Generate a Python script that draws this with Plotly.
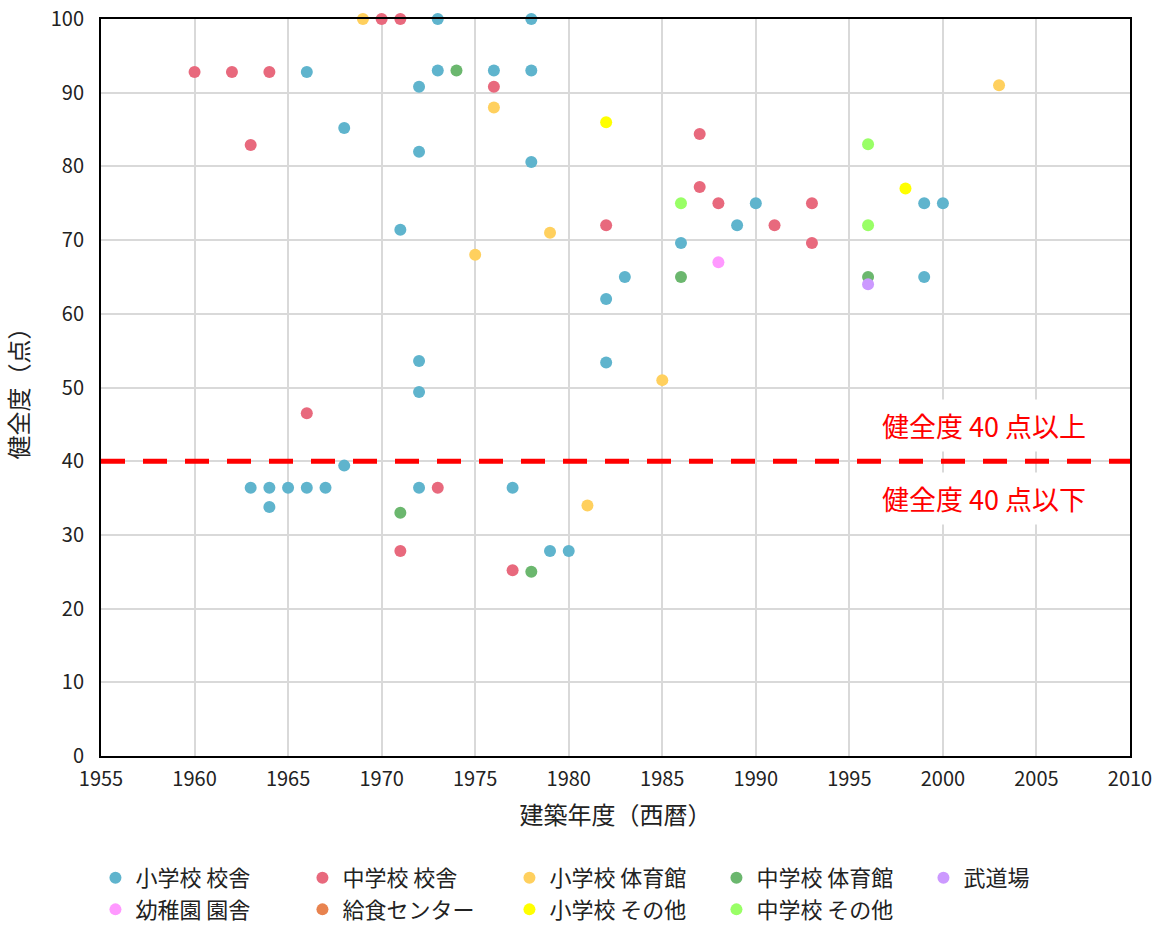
import plotly.graph_objects as go

# 建築年度（西暦）と健全度（点）— 施設区分ごと
categories = [
    "小学校 校舎", "中学校 校舎", "小学校 体育館", "中学校 体育館", "武道場",
    "幼稚園 園舎", "給食センター", "小学校 その他", "中学校 その他",
]
colors = [
    "#5FB4CD", "#E8697D", "#FFD05E", "#6BB76E", "#CC99FF",
    "#FF99FF", "#E8834F", "#FFFF00", "#99FF66",
]

es_bldg_year = [1963, 1964, 1964, 1965, 1966, 1966, 1967, 1968, 1968, 1971,
                1972, 1972, 1972, 1972, 1972, 1973, 1973, 1976, 1977, 1978,
                1978, 1978, 1979, 1980, 1982, 1982, 1983, 1986, 1989, 1990,
                1999, 1999, 2000]
es_bldg_score = [36.4, 36.4, 33.8, 36.4, 36.4, 92.8, 36.4, 39.4, 85.2, 71.4,
                 90.8, 82.0, 53.6, 49.4, 36.4, 100, 93.0, 93.0, 36.4, 100,
                 93.0, 80.6, 27.8, 27.8, 62.0, 53.4, 65.0, 69.6, 72.0, 75.0,
                 75.0, 65.0, 75.0]

js_bldg_year = [1960, 1962, 1963, 1964, 1966, 1970, 1971, 1971, 1973, 1976,
                1977, 1982, 1987, 1987, 1988, 1991, 1993, 1993]
js_bldg_score = [92.8, 92.8, 82.9, 92.8, 46.5, 100, 100, 27.8, 36.4, 90.8,
                 25.2, 72.0, 84.4, 77.2, 75.0, 72.0, 75.0, 69.6]

es_gym_year = [1969, 1975, 1976, 1979, 1981, 1985, 2003]
es_gym_score = [100, 68.0, 88.0, 71.0, 34.0, 51.0, 91.0]

js_gym_year = [1971, 1974, 1978, 1986, 1996]
js_gym_score = [33.0, 93.0, 25.0, 65.0, 65.0]

budo_year = [1996]
budo_score = [64.0]

kinder_year = [1988]
kinder_score = [67.0]

lunch_year = [None]
lunch_score = [None]

es_other_year = [1982, 1998]
es_other_score = [86.0, 77.0]

js_other_year = [1986, 1996, 1996]
js_other_score = [75.0, 83.0, 72.0]

series_x = [es_bldg_year, js_bldg_year, es_gym_year, js_gym_year, budo_year,
            kinder_year, lunch_year, es_other_year, js_other_year]
series_y = [es_bldg_score, js_bldg_score, es_gym_score, js_gym_score, budo_score,
            kinder_score, lunch_score, es_other_score, js_other_score]

threshold = 40
x_ticks = list(range(1955, 2011, 5))
y_ticks = list(range(0, 101, 10))

FONT = "Noto Sans CJK JP"

fig = go.Figure()
for name, color, xs, ys in zip(categories, colors, series_x, series_y):
    fig.add_trace(go.Scatter(
        x=xs, y=ys, name=name, mode="markers",
        marker=dict(color=color, size=12, line=dict(width=0)),
        cliponaxis=False,
    ))

# 健全度 40 点の境界線
fig.add_shape(type="line", xref="paper", x0=0, x1=1, yref="y",
              y0=threshold, y1=threshold,
              line=dict(color="#FF0000", width=5, dash="24px,18px"),
              layer="above")

fig.add_annotation(x=2002.2, y=44.8, text="健全度 40 点以上", showarrow=False,
                   font=dict(family=FONT, size=27, color="#FF0000"),
                   bgcolor="white", borderpad=6)
fig.add_annotation(x=2002.2, y=34.9, text="健全度 40 点以下", showarrow=False,
                   font=dict(family=FONT, size=27, color="#FF0000"),
                   bgcolor="white", borderpad=6)

axis_common = dict(
    showgrid=True, gridcolor="#D9D9D9", gridwidth=1.5,
    showline=True, linecolor="black", linewidth=2, mirror=True,
    zeroline=False, ticks="",
    tickfont=dict(family=FONT, size=20, color="#222222"),
)

fig.update_xaxes(range=[1955, 2010], tickvals=x_ticks,
                 title=dict(text="建築年度（西暦）", standoff=16,
                            font=dict(family=FONT, size=24, color="#222222")),
                 ticklabelstandoff=4,
                 **axis_common)
fig.update_yaxes(range=[0, 100], tickvals=y_ticks,
                 title=dict(text="健全度（点）", standoff=22,
                            font=dict(family=FONT, size=24, color="#222222")),
                 ticklabelstandoff=11,
                 **axis_common)

fig.update_layout(
    width=1164, height=926,
    margin=dict(l=101, r=34, t=19, b=170, autoexpand=False),
    paper_bgcolor="white", plot_bgcolor="white",
    font=dict(family=FONT, color="#222222"),
    legend=dict(
        orientation="h", xref="paper", yref="paper",
        x=-0.0054, y=-0.137, xanchor="left", yanchor="top",
        entrywidth=162, entrywidthmode="pixels",
        font=dict(family=FONT, size=22, color="#222222"),
        itemwidth=30, traceorder="normal",
    ),
)

fig.write_html("out.html")
